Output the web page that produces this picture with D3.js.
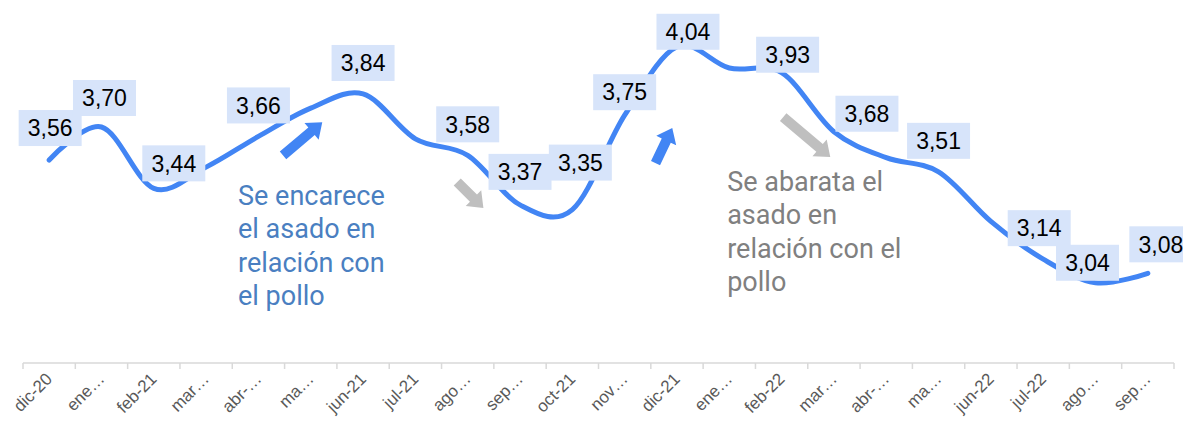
<!DOCTYPE html>
<html>
<head>
<meta charset="utf-8">
<script src="https://cdn.jsdelivr.net/npm/d3@7"></script>
<style>
body { margin: 0; background: #fff; }
</style>
</head>
<body>
<svg id="chart" width="1183" height="424"></svg>
<script>
// data
const months = ["dic-20", "ene-21", "feb-21", "mar-21", "abr-21", "may-21", "jun-21", "jul-21",
    "ago-21", "sep-21", "oct-21", "nov-21", "dic-21", "ene-22", "feb-22", "mar-22", "abr-22",
    "may-22", "jun-22", "jul-22", "ago-22", "sep-22"];
const values = [3.56, 3.70, 3.44, 3.53, 3.66, 3.78, 3.84, 3.65, 3.58, 3.37, 3.35, 3.75,
    4.04, 3.95, 3.93, 3.68, 3.57, 3.51, 3.30, 3.14, 3.04, 3.08];
const tickLabels = ["dic-20", "ene…", "feb-21", "mar…", "abr-…", "ma…", "jun-21", "jul-21",
    "ago…", "sep…", "oct-21", "nov…", "dic-21", "ene…", "feb-22", "mar…", "abr-…", "ma…",
    "jun-22", "jul-22", "ago…", "sep…"];
const labeledMonths = ["dic-20", "ene-21", "feb-21", "abr-21", "jun-21", "ago-21", "sep-21",
    "oct-21", "nov-21", "dic-21", "feb-22", "mar-22", "may-22", "jul-22", "ago-22", "sep-22"];
const noteUp = ["Se encarece", "el asado en", "relación con", "el pollo"];
const noteDown = ["Se abarata el", "asado en", "relación con el", "pollo"];

// label nudges (box centre relative to point), pixels
const nudge = {
    "dic-20": [1, -32], "ene-21": [3, -29], "feb-21": [20, -25], "sep-21": [0, -33],
    "oct-21": [8, -47], "nov-21": [0, -23], "dic-21": [11, -15], "feb-22": [6, -18],
    "mar-22": [33, -18], "ago-22": [-8, -20], "sep-22": [13, -29], "jul-22": [-4, -31]
};

const width = 1183;
const height = 424;
const axisY = 363;

const svg = d3.select("#chart");

const x = d3.scaleBand().domain(months).range([23, 1174]).padding(0);
const y = d3.scaleLinear().domain([3.0, 4.1]).range([292.2, 32.6]);
// continuous month index, for annotations
const xi = d3.scaleLinear().domain([0, 1]).range([x(months[0]) + x.bandwidth() / 2, x(months[1]) + x.bandwidth() / 2]);

const fmt = d3.formatLocale({decimal: ",", thousands: ".", grouping: [3], currency: ["", "€"]}).format(".2f");

// x axis
const axis = svg.append("g");
axis.append("line")
    .attr("x1", x.range()[0]).attr("x2", x.range()[1])
    .attr("y1", axisY).attr("y2", axisY)
    .attr("stroke", "#d9d9d9").attr("stroke-width", 1.5);
axis.selectAll("line.tick")
    .data(months.concat(["end"]))
    .enter().append("line")
    .attr("class", "tick")
    .attr("x1", (d, i) => x.range()[0] + i * x.step())
    .attr("x2", (d, i) => x.range()[0] + i * x.step())
    .attr("y1", axisY).attr("y2", axisY + 6)
    .attr("stroke", "#d9d9d9").attr("stroke-width", 1.5);
axis.selectAll("text")
    .data(months)
    .enter().append("text")
    .attr("transform", d => "translate(" + (x(d) + x.bandwidth() / 2 + 4) + "," + (axisY + 17) + ") rotate(-45)")
    .attr("text-anchor", "end")
    .attr("font-family", "Liberation Sans, Arial, sans-serif")
    .attr("font-size", 17)
    .attr("fill", "#595959")
    .text((d, i) => tickLabels[i]);

// line
const points = months.map((m, i) => ({month: m, value: values[i]}));
const line = d3.line()
    .x(d => x(d.month) + x.bandwidth() / 2)
    .y(d => y(d.value))
    .curve(d3.curveCardinal.tension(0));

svg.append("path")
    .datum(points)
    .attr("d", line)
    .attr("fill", "none")
    .attr("stroke", "#4285f4")
    .attr("stroke-width", 5)
    .attr("stroke-linecap", "round");

// arrows: [from idx, from value] -> [to idx, to value]
function arrowPath(x0, y0, x1, y1, shaft, head, headLen) {
    const dx = x1 - x0, dy = y1 - y0;
    const len = Math.sqrt(dx * dx + dy * dy);
    const ux = dx / len, uy = dy / len;
    const nx = -uy, ny = ux;
    const bx = x1 - ux * headLen, by = y1 - uy * headLen;
    const p = [
        [x0 + nx * shaft / 2, y0 + ny * shaft / 2],
        [bx + nx * shaft / 2, by + ny * shaft / 2],
        [bx + nx * head / 2, by + ny * head / 2],
        [x1, y1],
        [bx - nx * head / 2, by - ny * head / 2],
        [bx - nx * shaft / 2, by - ny * shaft / 2],
        [x0 - nx * shaft / 2, y0 - ny * shaft / 2]
    ];
    return "M" + p.map(q => q.join(",")).join("L") + "Z";
}

const arrows = [
    {from: [4.47, 3.58], to: [5.22, 3.72], color: "#4285f4"},
    {from: [7.80, 3.467], to: [8.30, 3.357], color: "#bfbfbf"},
    {from: [11.59, 3.547], to: [11.91, 3.696], color: "#4285f4"},
    {from: [14.03, 3.742], to: [14.93, 3.573], color: "#bfbfbf"}
];
svg.selectAll("path.arrow")
    .data(arrows)
    .enter().append("path")
    .attr("class", "arrow")
    .attr("fill", d => d.color)
    .attr("d", d => arrowPath(xi(d.from[0]), y(d.from[1]), xi(d.to[0]), y(d.to[1]), 10, 22, 14));

// data labels
const labelPoints = points.filter(d => labeledMonths.includes(d.month));
const labels = svg.selectAll("g.label")
    .data(labelPoints)
    .enter().append("g")
    .attr("class", "label")
    .attr("transform", d => {
        const n = nudge[d.month] || [0, -31];
        return "translate(" + (x(d.month) + x.bandwidth() / 2 + n[0]) + "," + (y(d.value) + n[1]) + ")";
    });
labels.append("rect")
    .attr("x", -31.5).attr("y", -18)
    .attr("width", 63).attr("height", 36)
    .attr("fill", "#d7e4fa");
labels.append("text")
    .attr("text-anchor", "middle")
    .attr("dy", "0.36em")
    .attr("font-family", "Liberation Sans, Arial, sans-serif")
    .attr("font-size", 23)
    .attr("fill", "#000")
    .text(d => fmt(d.value));

// notes
function note(lines, idx, v, color) {
    svg.append("text")
        .attr("font-family", "Roboto, sans-serif")
        .attr("font-size", 27)
        .attr("fill", color)
        .selectAll("tspan")
        .data(lines)
        .enter().append("tspan")
        .attr("x", xi(idx))
        .attr("y", (d, i) => y(v) + i * 33.5)
        .text(d => d);
}
note(noteUp, 3.61, 3.37, "#4a7fc1");
note(noteDown, 12.96, 3.43, "#808080");
</script>
</body>
</html>
